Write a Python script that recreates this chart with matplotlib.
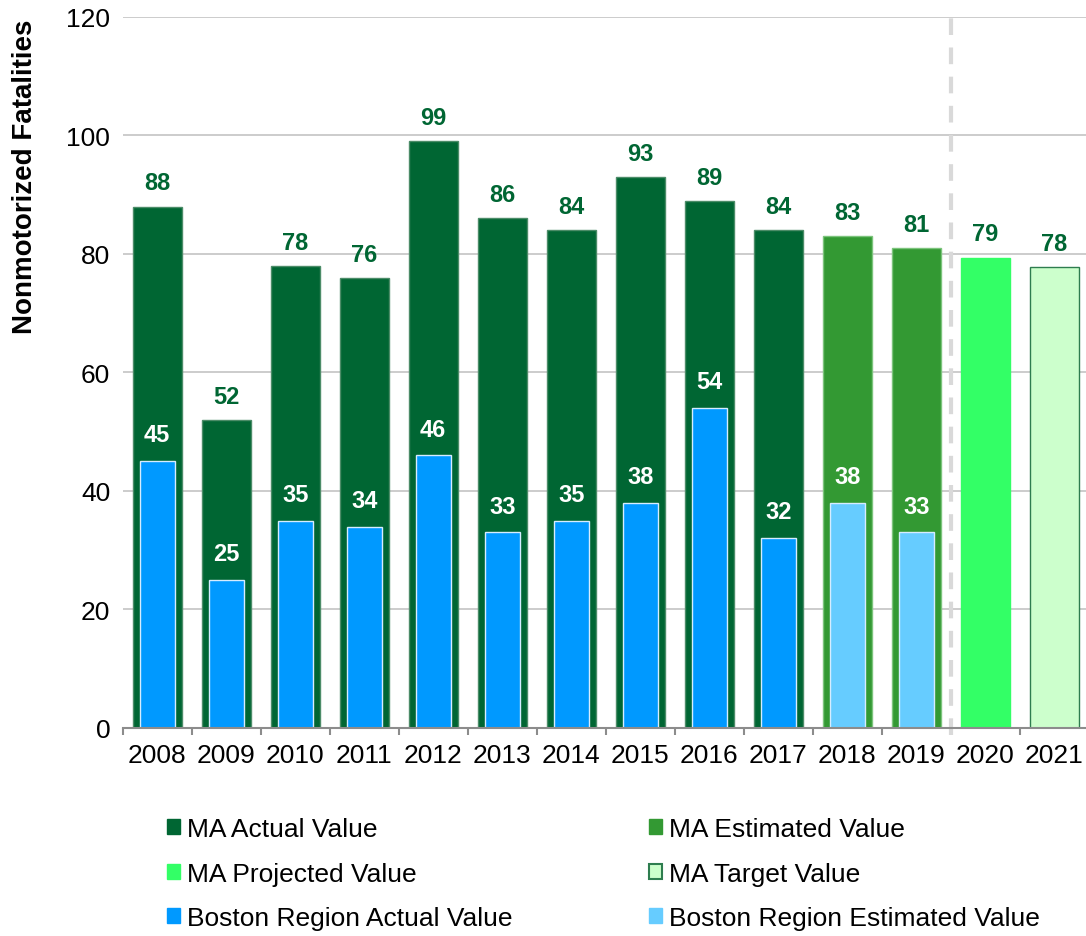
import numpy as np
import matplotlib.pyplot as plt
from matplotlib.patches import Patch

plt.rcParams['font.family'] = ['Liberation Sans', 'DejaVu Sans']

# chart data
years = ['2008', '2009', '2010', '2011', '2012', '2013', '2014',
         '2015', '2016', '2017', '2018', '2019', '2020', '2021']
ma_values = [88, 52, 78, 76, 99, 86, 84, 93, 89, 84, 83, 81, 79.4, 77.8]
ma_labels = ['88', '52', '78', '76', '99', '86', '84', '93', '89', '84', '83', '81', '79', '78']
ma_kind = ['actual'] * 10 + ['estimated'] * 2 + ['projected', 'target']
boston_values = [45, 25, 35, 34, 46, 33, 35, 38, 54, 32, 38, 33]
boston_kind = ['actual'] * 10 + ['estimated'] * 2

ma_colors = {'actual': '#006633', 'estimated': '#339933',
             'projected': '#33FF66', 'target': '#CCFFCC'}
ma_edges = {'actual': '#4C8C68', 'estimated': '#7CC47C',
            'projected': '#33FF66', 'target': '#2E7D4F'}
boston_colors = {'actual': '#0099FF', 'estimated': '#66CCFF'}
label_green = '#006633'

fig = plt.figure(figsize=(10.86, 9.37), dpi=100)
ax = fig.add_axes([0.113, 0.222, 0.8895, 0.7588])

x = np.arange(len(years))

ax.bar(x, ma_values, width=0.71,
       color=[ma_colors[k] for k in ma_kind],
       edgecolor=[ma_edges[k] for k in ma_kind], linewidth=1.0, zorder=2)
bx = x[:len(boston_values)]
ax.bar(bx, boston_values, width=0.51,
       color=[boston_colors[k] for k in boston_kind],
       edgecolor='#D6ECFF', linewidth=1.0, zorder=3)

for xi, v, lab in zip(x, ma_values, ma_labels):
    ax.annotate(lab, (xi, v), xytext=(0, 17), textcoords='offset points',
                ha='center', va='center', fontsize=17, fontweight='bold',
                color=label_green, zorder=5)
for xi, v in zip(bx, boston_values):
    ax.annotate(str(v), (xi, v), xytext=(0, 19), textcoords='offset points',
                ha='center', va='center', fontsize=17, fontweight='bold',
                color='white', zorder=5)

# separator between estimated and projected years
ax.axvline(11.5, ymin=-0.01, ymax=1, color='#D9D9D9', lw=3,
           linestyle=(0, (4, 3)), zorder=1, clip_on=False)

ax.set_xlim(-0.5, len(years) - 0.5)
ax.set_ylim(0, 120)
ax.set_yticks(range(0, 121, 20))
ax.set_xticks(x)
ax.set_xticklabels(years)
ax.set_xticks(np.arange(-0.5, len(years), 1), minor=True)
ax.tick_params(axis='x', which='major', length=0, pad=11, labelsize=19)
ax.tick_params(axis='x', which='minor', length=5, width=1.5,
               color='#8C8C8C', direction='out')
ax.tick_params(axis='y', length=0, pad=9, labelsize=19)

ax.grid(axis='y', color='#C8C8C8', lw=1.3, zorder=0)
ax.set_axisbelow(True)
for s in ['top', 'right', 'left']:
    ax.spines[s].set_visible(False)
ax.spines['bottom'].set_color('#8C8C8C')
ax.spines['bottom'].set_linewidth(1.5)
ax.spines['bottom'].set_zorder(4)

ax.set_ylabel('Nonmotorized Fatalities', fontsize=20, fontweight='bold')
ax.yaxis.set_label_coords(-0.088, 0.776)

handles = [
    Patch(facecolor=ma_colors['actual'], edgecolor=ma_colors['actual'], label='MA Actual Value'),
    Patch(facecolor=ma_colors['projected'], edgecolor=ma_colors['projected'], label='MA Projected Value'),
    Patch(facecolor=boston_colors['actual'], edgecolor=boston_colors['actual'], label='Boston Region Actual Value'),
    Patch(facecolor=ma_colors['estimated'], edgecolor=ma_colors['estimated'], label='MA Estimated Value'),
    Patch(facecolor=ma_colors['target'], edgecolor=ma_edges['target'], linewidth=1.5, label='MA Target Value'),
    Patch(facecolor=boston_colors['estimated'], edgecolor=boston_colors['estimated'], label='Boston Region Estimated Value'),
]
fig.legend(handles=handles, ncol=2, loc='upper left',
           bbox_to_anchor=(0.1538, 0.127), frameon=False, fontsize=19,
           handlelength=0.5, handleheight=0.5, handletextpad=0.25,
           labelspacing=0.78, columnspacing=5.19, borderpad=0, borderaxespad=0)

fig.savefig('out.png', dpi=100)
